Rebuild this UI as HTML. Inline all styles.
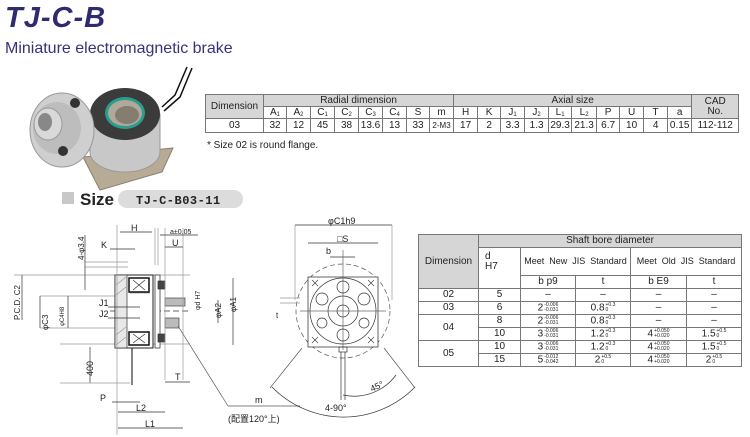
<!DOCTYPE html>
<html><head><meta charset="utf-8"><style>
body{margin:0;background:#fff;width:750px;height:437px;overflow:hidden;position:relative;font-family:"Liberation Sans",Arial,sans-serif;}
.abs{position:absolute}
table{border-collapse:collapse;position:absolute;font-family:"Liberation Sans",sans-serif;color:#222;table-layout:fixed}
td{border:1px solid #777;text-align:center;padding:0;line-height:1;white-space:nowrap;overflow:hidden}
.h{background:#d6d6d6}
sub{font-size:6px;vertical-align:-1px}
.tol{display:inline-block;font-size:5px;line-height:5px;vertical-align:middle;text-align:left;margin-left:1px}
</style></head><body>
<div class="abs" style="left:5px;top:2px;font-size:29px;font-weight:bold;font-style:italic;color:#2e2b70;letter-spacing:1px">TJ-C-B</div>
<div class="abs" style="left:5px;top:40px;font-size:16px;color:#35327a">Miniature electromagnetic brake</div>

<svg class="abs" style="left:0;top:0" width="750" height="437" viewBox="0 0 750 437">
<!-- photo -->
<path d="M187 67 L175 95 L162 107" stroke="#111" stroke-width="1.5" fill="none"/>
<path d="M192 68 L180 97 L164 111" stroke="#111" stroke-width="1.5" fill="none"/>
<polygon points="83,157 100,190 162,172 173,148" fill="#b8ab96" stroke="#8a7f70"/>
<path d="M90 114 L90 152 A35 20 0 0 0 160 152 L160 114 Z" fill="#c8c8c8" stroke="#999"/>
<ellipse cx="125" cy="114" rx="35" ry="26" fill="#3b3b3b"/>
<ellipse cx="125" cy="113" rx="20" ry="16" fill="#2a9d8f"/>
<ellipse cx="125" cy="113" rx="17" ry="13" fill="#b0a99a"/>
<ellipse cx="127" cy="115" rx="12" ry="9" fill="#857d6f"/>
<ellipse cx="62" cy="130" rx="32" ry="37" fill="#cfcfcf" stroke="#999"/>
<ellipse cx="57" cy="128" rx="24" ry="26" fill="#bdbdbd"/>
<ellipse cx="48" cy="124" rx="14" ry="16" fill="#d9d9d9" stroke="#999"/>
<ellipse cx="45" cy="122" rx="7" ry="9" fill="#888"/>
<circle cx="75" cy="103" r="5" fill="#333"/><circle cx="63" cy="151" r="5" fill="#333"/>
<!-- size bar -->
<rect x="62" y="192" width="12" height="12" fill="#c8c8c8"/>
<text x="80" y="205" font-size="17" font-weight="bold" fill="#222">Size</text>
<rect x="118" y="190" width="125" height="18" rx="9" fill="#dcdcdc"/>
<text x="136" y="204" font-size="12" font-weight="bold" fill="#222" font-family="Liberation Mono, monospace" letter-spacing="0.5">TJ-C-B03-11</text>

<!-- left drawing -->
<g stroke="#333" stroke-width="0.7" fill="none" font-family="Liberation Sans" font-size="9" >
<line x1="14" y1="275" x2="190" y2="275" stroke="#999"/>
<line x1="85" y1="262" x2="128" y2="262" stroke="#999"/><line x1="85" y1="267" x2="128" y2="267" stroke="#999"/>
<line x1="40" y1="296" x2="120" y2="296" stroke="#999"/><line x1="40" y1="328" x2="120" y2="328" stroke="#999"/>
<line x1="60" y1="344" x2="190" y2="344" stroke="#999"/>
<line x1="22" y1="275" x2="22" y2="320"/>
<line x1="40" y1="296" x2="40" y2="328"/>
<line x1="68" y1="296" x2="68" y2="328"/>
<line x1="110" y1="311" x2="190" y2="311" stroke-dasharray="6,3"/>
<rect x="115" y="275" width="38" height="73" fill="#fff" stroke="#222" stroke-width="1"/>
<path d="M115 275 L127 275 L127 348 L115 348Z" fill="#e8e8e8"/>
<g stroke="#666" stroke-width="0.5">
<line x1="116" y1="285" x2="126" y2="277"/><line x1="116" y1="295" x2="126" y2="287"/><line x1="116" y1="335" x2="126" y2="327"/><line x1="116" y1="345" x2="126" y2="337"/>
<line x1="130" y1="293" x2="150" y2="293"/><line x1="130" y1="332" x2="150" y2="332"/>
</g>
<rect x="129" y="278" width="20" height="14" stroke="#111" stroke-width="1.5"/>
<path d="M133 280 L145 290 M145 280 L133 290"/>
<rect x="129" y="332" width="20" height="13" stroke="#111" stroke-width="1.5"/>
<path d="M133 334 L145 343 M145 334 L133 343"/>
<rect x="155" y="275" width="5" height="73" fill="#fff" stroke="#222"/>
<rect x="158" y="281" width="7" height="8" fill="#444"/><rect x="158" y="334" width="7" height="8" fill="#444"/>
<rect x="165" y="298" width="20" height="8" fill="#bbb" stroke="#444"/>
<rect x="165" y="318" width="14" height="10" fill="#bbb" stroke="#444"/>
<line x1="183" y1="228" x2="183" y2="380" stroke="#999"/>
<line x1="165" y1="228" x2="165" y2="380" stroke="#999"/>
<line x1="117" y1="225" x2="117" y2="435" stroke="#999"/>
<line x1="155" y1="228" x2="155" y2="265" stroke="#999"/><line x1="158" y1="228" x2="158" y2="265" stroke="#999"/>
<line x1="120" y1="232" x2="152" y2="232"/><text x="131" y="231" stroke="none" fill="#222">H</text>
<line x1="160" y1="235" x2="198" y2="235"/><text x="170" y="234" stroke="none" fill="#222" font-size="7">a±0.05</text>
<line x1="165" y1="247" x2="183" y2="247"/><text x="172" y="246" stroke="none" fill="#222">U</text>
<line x1="110" y1="249" x2="135" y2="249"/><text x="101" y="248" stroke="none" fill="#222">K</text>
<line x1="85" y1="235" x2="85" y2="290"/>
<text transform="translate(84 260) rotate(-90)" stroke="none" fill="#222" font-size="8">4-φ3.4</text>
<line x1="233" y1="278" x2="233" y2="345"/>
<text transform="translate(236 312) rotate(-90)" stroke="none" fill="#222" font-size="8">φA1</text>
<line x1="218" y1="300" x2="218" y2="323"/>
<text transform="translate(221 318) rotate(-90)" stroke="none" fill="#222" font-size="8">φA2</text>
<text transform="translate(200 310) rotate(-90)" stroke="none" fill="#222" font-size="7">φd H7</text>
<text transform="translate(20 320) rotate(-90)" stroke="none" fill="#222" font-size="8">P.C.D. C2</text>
<text transform="translate(48 330) rotate(-90)" stroke="none" fill="#222" font-size="8">φC3</text>
<text transform="translate(64 326) rotate(-90)" stroke="none" fill="#222" font-size="6">φC4H8</text>
<line x1="108" y1="307" x2="140" y2="307"/><text x="99" y="306" stroke="none" fill="#222">J1</text>
<line x1="108" y1="318" x2="140" y2="318"/><text x="99" y="317" stroke="none" fill="#222">J2</text>
<line x1="132" y1="348" x2="132" y2="385" stroke-width="1.2"/>
<line x1="90" y1="347" x2="90" y2="383"/>
<line x1="60" y1="383" x2="130" y2="383" stroke="#999"/>
<text transform="translate(93 376) rotate(-90)" stroke="none" fill="#222">400</text>
<line x1="112" y1="402" x2="140" y2="402"/><text x="100" y="401" stroke="none" fill="#222">P</text>
<line x1="118" y1="412" x2="165" y2="412"/><text x="136" y="411" stroke="none" fill="#222">L2</text>
<line x1="118" y1="428" x2="183" y2="428"/><text x="145" y="427" stroke="none" fill="#222">L1</text>
<line x1="165" y1="382" x2="190" y2="382"/><text x="175" y="380" stroke="none" fill="#222">T</text>
<line x1="178" y1="326" x2="228" y2="406" stroke="#555"/>
<line x1="228" y1="406" x2="300" y2="406" stroke="#555"/>
<text x="255" y="403" stroke="none" fill="#222">m</text>
<text x="228" y="422" stroke="none" fill="#222" font-family="Liberation Sans, Noto Sans CJK SC, sans-serif">(配置120°上)</text>
</g>

<!-- middle drawing -->
<g stroke="#333" stroke-width="0.7" fill="none" font-family="Liberation Sans" font-size="9">
<line x1="295" y1="225" x2="392" y2="225"/><text x="328" y="224" stroke="none" fill="#222">φC1h9</text>
<line x1="295" y1="225" x2="295" y2="300" stroke="#999"/><line x1="392" y1="225" x2="392" y2="300" stroke="#999"/>
<line x1="308" y1="243" x2="378" y2="243"/><text x="337" y="242" stroke="none" fill="#222">□S</text>
<line x1="330" y1="257" x2="355" y2="257"/><text x="326" y="254" stroke="none" fill="#222">b</text>
<circle cx="343" cy="311" r="47" stroke-dasharray="5,3" stroke="#555"/>
<rect x="308" y="277" width="70" height="70" fill="#fff" stroke="#222"/>
<circle cx="343" cy="311" r="33"/>
<circle cx="343" cy="311" r="15"/>
<circle cx="343" cy="311" r="6"/>
<line x1="300" y1="311" x2="386" y2="311" stroke="#666"/>
<line x1="343" y1="250" x2="343" y2="350" stroke="#666"/>
<circle cx="343" cy="287" r="6"/><circle cx="343" cy="335" r="6"/>
<circle cx="322" cy="299" r="6"/><circle cx="364" cy="299" r="6"/>
<circle cx="322" cy="323" r="5"/><circle cx="364" cy="323" r="5"/>
<g stroke-width="0.6"><path d="M312 280 l6 6 m0 -6 l-6 6"/><path d="M368 280 l6 6 m0 -6 l-6 6"/><path d="M312 337 l6 6 m0 -6 l-6 6"/><path d="M368 337 l6 6 m0 -6 l-6 6"/></g>
<rect x="339" y="347" width="8" height="5"/>
<line x1="341" y1="352" x2="341" y2="400"/><line x1="345" y1="352" x2="345" y2="400"/>
<line x1="280" y1="298" x2="300" y2="298" stroke="#999"/><line x1="280" y1="303" x2="300" y2="303" stroke="#999"/>
<text x="276" y="318" stroke="none" fill="#222" font-size="8">t</text>
<path d="M272 387 A 100 100 0 0 0 415 387"/>
<line x1="302" y1="348" x2="270" y2="388" stroke="#555"/><line x1="384" y1="348" x2="415" y2="388" stroke="#555"/>
<path d="M343 395 A 52 52 0 0 0 396 375"/>
<text x="325" y="411" stroke="none" fill="#222">4-90°</text>
<text transform="translate(372 392) rotate(-25)" stroke="none" fill="#222">45°</text>
</g>
</svg>

<table style="left:205px;top:94px;width:533px;font-size:10px">
<colgroup><col style="width:58px"><col style="width:23px"><col style="width:24px"><col style="width:24px"><col style="width:24px"><col style="width:24px"><col style="width:24px"><col style="width:23px"><col style="width:24px"><col style="width:24px"><col style="width:23px"><col style="width:24px"><col style="width:24px"><col style="width:23px"><col style="width:25px"><col style="width:23px"><col style="width:24px"><col style="width:24px"><col style="width:24px"><col style="width:47px"></colgroup>
<tr style="height:12px"><td class="h" rowspan="2">Dimension</td><td class="h" colspan="8">Radial dimension</td><td class="h" colspan="10">Axial size</td><td class="h" rowspan="2">CAD<br>No.</td></tr>
<tr style="height:12px"><td>A<sub>1</sub></td><td>A<sub>2</sub></td><td>C<sub>1</sub></td><td>C<sub>2</sub></td><td>C<sub>3</sub></td><td>C<sub>4</sub></td><td>S</td><td>m</td><td>H</td><td>K</td><td>J<sub>1</sub></td><td>J<sub>2</sub></td><td>L<sub>1</sub></td><td>L<sub>2</sub></td><td>P</td><td>U</td><td>T</td><td>a</td></tr>
<tr style="height:14px"><td>03</td><td>32</td><td>12</td><td>45</td><td>38</td><td>13.6</td><td>13</td><td>33</td><td style="font-size:8px">2-M3</td><td>17</td><td>2</td><td>3.3</td><td>1.3</td><td>29.3</td><td>21.3</td><td>6.7</td><td>10</td><td>4</td><td>0.15</td><td>112-112</td></tr>
</table>
<div class="abs" style="left:207px;top:140px;font-size:10px;color:#222">* Size 02 is round flange.</div>

<table style="left:418px;top:234px;width:323px;font-size:10px">
<colgroup><col style="width:60px"><col style="width:42px"><col style="width:55px"><col style="width:55px"><col style="width:56px"><col style="width:55px"></colgroup>
<tr style="height:13px"><td class="h" rowspan="3">Dimension</td><td class="h" colspan="5">Shaft bore diameter</td></tr>
<tr style="height:28px"><td rowspan="2" style="text-align:left;padding-left:6px;vertical-align:top;padding-top:4px">d<br>H7</td><td colspan="2" style="font-size:9px">Meet &nbsp;New &nbsp;JIS &nbsp;Standard</td><td colspan="2" style="font-size:9px">Meet &nbsp;Old &nbsp;JIS &nbsp;Standard</td></tr>
<tr style="height:13px"><td>b p9</td><td>t</td><td>b E9</td><td>t</td></tr>
<tr style="height:13px"><td>02</td><td>5</td><td>–</td><td>–</td><td>–</td><td>–</td></tr>
<tr style="height:13px"><td>03</td><td>6</td><td>2<span class="tol">-0.006<br>-0.031</span></td><td>0.8<span class="tol">+0.3<br>0</span></td><td>–</td><td>–</td></tr>
<tr style="height:13px"><td rowspan="2">04</td><td>8</td><td>2<span class="tol">-0.006<br>-0.031</span></td><td>0.8<span class="tol">+0.3<br>0</span></td><td>–</td><td>–</td></tr>
<tr style="height:13px"><td>10</td><td>3<span class="tol">-0.006<br>-0.031</span></td><td>1.2<span class="tol">+0.3<br>0</span></td><td>4<span class="tol">+0.050<br>+0.020</span></td><td>1.5<span class="tol">+0.5<br>0</span></td></tr>
<tr style="height:13px"><td rowspan="2">05</td><td>10</td><td>3<span class="tol">-0.006<br>-0.031</span></td><td>1.2<span class="tol">+0.3<br>0</span></td><td>4<span class="tol">+0.050<br>+0.020</span></td><td>1.5<span class="tol">+0.5<br>0</span></td></tr>
<tr style="height:13px"><td>15</td><td>5<span class="tol">-0.012<br>-0.042</span></td><td>2<span class="tol">+0.5<br>0</span></td><td>4<span class="tol">+0.050<br>+0.020</span></td><td>2<span class="tol">+0.5<br>0</span></td></tr>
</table>
</body></html>
